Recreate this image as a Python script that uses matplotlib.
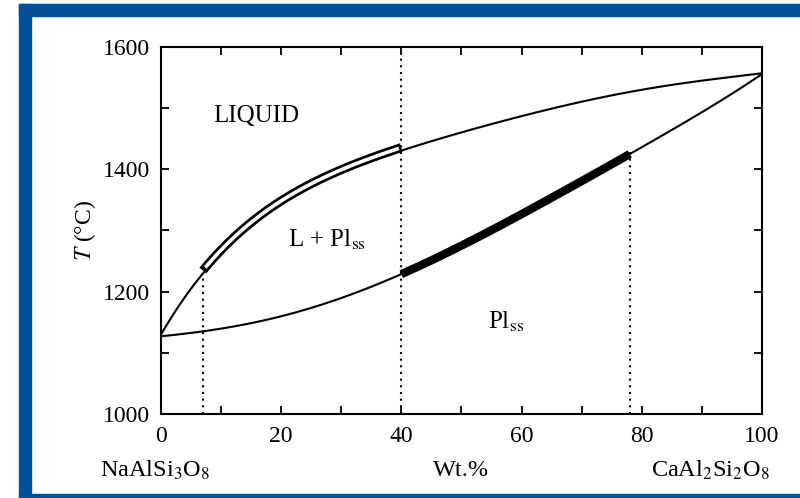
import numpy as np
import matplotlib
matplotlib.use("Agg")
import matplotlib.pyplot as plt
from matplotlib.patches import Rectangle

plt.rcParams['font.family'] = ['Liberation Serif', 'DejaVu Serif']
plt.rcParams['mathtext.fontset'] = 'stix'

# --- data (Wt.% An, T in °C) ---
liq_x = [0, 3, 7, 15, 22, 30, 40, 56, 73, 90, 100]
liq_t = [1128, 1178, 1231, 1306, 1355, 1395, 1431, 1476, 1517, 1545, 1557]
sol_x = [0, 7, 22, 40, 48, 56, 62, 73, 78, 90, 100]
sol_t = [1128, 1133, 1166, 1231, 1264, 1303, 1336, 1399, 1429, 1489, 1557]

liq_hi = (7, 40)       # highlighted liquid composition path
sol_hi = (40, 78)      # highlighted solid composition path
dot_x = [7, 40, 78]
dot_top = [1231, 1600, 1429]

xticks = [0, 20, 40, 60, 80, 100]
yticks = [1000, 1200, 1400, 1600]

fig = plt.figure(figsize=(8, 4.98), dpi=100)
ax = fig.add_axes([0.201, 0.1687, 0.7515, 0.737])

# blue frame
blue = '#044f9a'
fig.patches.append(Rectangle((0.024, 0.0), 0.015, 0.992, transform=fig.transFigure, color=blue, zorder=0))
fig.patches.append(Rectangle((0.024, 0.967), 0.976, 0.025, transform=fig.transFigure, color=blue, zorder=0))
fig.patches.append(Rectangle((0.024, 0.0), 0.976, 0.009, transform=fig.transFigure, color=blue, zorder=0))

# smooth curves through the read points
xs = np.linspace(0, 100, 501)
liq = np.polyval(np.polyfit(liq_x, liq_t, 5), xs)
sol = np.polyval(np.polyfit(sol_x, sol_t, 5), xs)
ax.plot(xs, liq, color='black', lw=1.5, zorder=3)
ax.plot(xs, sol, color='black', lw=1.5, zorder=3)

# double (open) band along the liquidus, closed at both ends
m = (xs >= liq_hi[0]) & (xs <= liq_hi[1])
bx, by = xs[m], liq[m] + 5
ax.plot(bx, by, color='black', lw=6.5, solid_capstyle='butt', zorder=4)
ax.plot(bx[2:-2], by[2:-2], color='white', lw=2.6, solid_capstyle='butt', zorder=5)

# thick band along the solidus
m = (xs >= sol_hi[0]) & (xs <= sol_hi[1])
ax.plot(xs[m], sol[m], color='black', lw=6, solid_capstyle='butt', zorder=4)

for x0, t1 in zip(dot_x, dot_top):
    ax.plot([x0, x0], [1000, t1], color='black', lw=1.5, ls=(0, (1, 2.2)), zorder=2)

ax.text(8.8, 1487, 'LIQUID', fontsize=18, ha='left', va='center')
ax.text(27.6, 1285, r'L + Pl$_{\rm ss}$', fontsize=18, ha='center', va='center')
ax.text(57.5, 1150, r'Pl$_{\rm ss}$', fontsize=18, ha='center', va='center')

ax.set_xlim(0, 100)
ax.set_ylim(1000, 1600)
ax.set_xticks(xticks)
ax.set_yticks(yticks)
ax.set_xticks(np.arange(0, 101, 10), minor=True)
ax.set_yticks(np.arange(1000, 1601, 100), minor=True)
ax.tick_params(which='both', direction='in', top=True, right=True, length=6, width=1.3, labelsize=17)
ax.tick_params(axis='x', pad=9)
ax.tick_params(axis='y', pad=8)
for s in ax.spines.values():
    s.set_linewidth(1.5)

ax.set_ylabel(r'$T$ (°C)', fontsize=17, labelpad=3)

fig.text(0.125, 0.056, r'NaAlSi$_3$O$_8$', fontsize=17.5, ha='left', va='center')
fig.text(0.576, 0.056, 'Wt.%', fontsize=17.5, ha='center', va='center')
fig.text(0.962, 0.056, r'CaAl$_2$Si$_2$O$_8$', fontsize=17.5, ha='right', va='center')

fig.savefig('out.png', dpi=100, facecolor='white')
